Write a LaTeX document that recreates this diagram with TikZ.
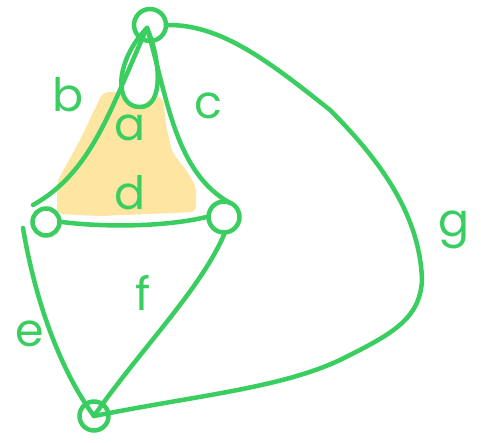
\documentclass[tikz,border=0pt]{standalone}
\usepackage{fontspec}
\setmainfont{Poppins}
\definecolor{pen}{RGB}{58,206,96}
\definecolor{hl}{RGB}{254,229,161}
\begin{document}
\begin{tikzpicture}[x=1pt,y=-1pt,
  ink/.style={draw=pen,line width=4.5pt,line cap=round,line join=round},
  vtx/.style={circle,draw=pen,line width=4.5pt,inner sep=0pt},
  lbl/.style={text=pen,font=\fontsize{46}{46}\selectfont}]
\useasboundingbox (0,0) rectangle (481,442);
\fill[white] (0,0) rectangle (481,442);
% highlighted region
\fill[hl,rounded corners=6pt] (103,92) -- (120,92) -- (123,102) -- (140,108) -- (152,97) -- (163,97)
  -- (166,125) -- (172,152) -- (186,170) -- (196,186) -- (196,212) -- (100,216) -- (57,214)
  -- (57,182) -- (80,140) -- cycle;
% vertices
\node[vtx,minimum size=32pt] (T) at (150,25) {};
\node[vtx,minimum size=27pt] (L) at (46,222) {};
\node[vtx,minimum size=31pt] (R) at (224,217) {};
\node[vtx,minimum size=29pt] (B) at (94,416) {};
\coordinate (Ttip) at (147,28);
\coordinate (Abot) at (140,107);
\coordinate (Lend) at (33,205);
\coordinate (Rend) at (230,203);
\coordinate (Estart) at (23,228);
\coordinate (G1) at (330,110);
\coordinate (G2) at (422,280);
\coordinate (G3) at (340,360);
% edges
\draw[ink] (Ttip) .. controls (114,62) and (114,107) .. (Abot) .. controls (165,107) and (160,58) .. (Ttip); % a
\draw[ink] (Ttip) .. controls (110,110) and (92,172) .. (Lend); % b
\draw[ink] (Ttip) .. controls (168,100) and (175,172) .. (Rend); % c
\draw[ink] (L.east) .. controls (110,228) and (170,226) .. (R.west); % d
\draw[ink] (Estart) .. controls (35,300) and (60,370) .. (B.center); % e
\draw[ink] (R.south) .. controls (200,290) and (140,350) .. (B.center); % f
\draw[ink] (T.east) .. controls (220,25) and (265,58) .. (G1) .. controls (380,160) and (420,215) .. (G2)
  .. controls (420,320) and (390,335) .. (G3) .. controls (280,388) and (200,395) .. (B.center); % g
% labels
\node[lbl] (la) at (130,128) {a};
\node[lbl] (lb) at (68,95) {b};
\node[lbl] (lc) at (208,106) {c};
\node[lbl] (ld) at (130,193) {d};
\node[lbl] (le) at (30,334) {e};
\node[lbl] (lf) at (143,293) {f};
\node[lbl] (lg) at (454,230) {g};
\end{tikzpicture}
\end{document}
